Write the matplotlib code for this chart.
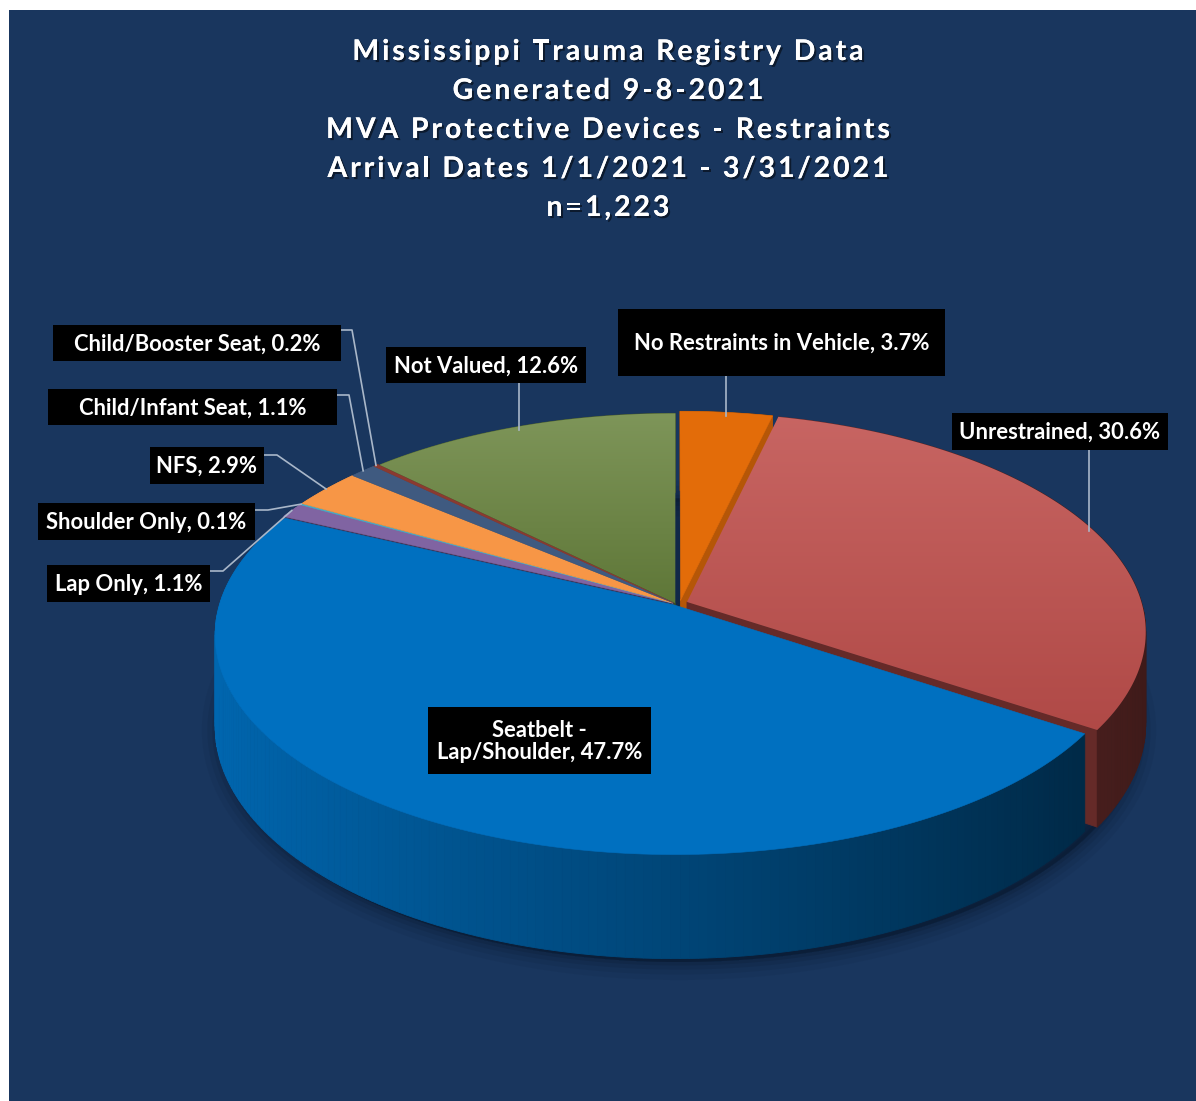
import numpy as np
import matplotlib
matplotlib.use("Agg")
import matplotlib.pyplot as plt
from matplotlib.patches import Rectangle, Polygon
from matplotlib.colors import to_rgb
from matplotlib.font_manager import FontProperties
import matplotlib.patheffects as pe

# dados
categories = ["No Restraints in Vehicle", "Unrestrained", "Seatbelt -\nLap/Shoulder",
              "Lap Only", "Shoulder Only", "NFS", "Child/Infant Seat",
              "Child/Booster Seat", "Not Valued"]
values = [3.7, 30.6, 47.7, 1.1, 0.1, 2.9, 1.1, 0.2, 12.6]
title_lines = ["Mississippi Trauma Registry Data", "Generated 9-8-2021",
               "MVA Protective Devices - Restraints",
               "Arrival Dates 1/1/2021 - 3/31/2021", "n=1,223"]

# estilo
colors = ["#E36C09", "#C0504D", "#0070C0", "#8064A2", "#4BACC6",
          "#F79646", "#3F5A80", "#8B3A30", "#69843E"]
grad = [0.0, 0.12, 0.0, 0.0, 0.0, 0.0, 0.0, 0.0, 0.14]
explode = [0.016, 0.026, 0.006, 0.008, 0.008, 0.008, 0.008, 0.008, 0.004]
BG = "#19365E"
LINE = "#A9B7C9"

# caixas dos rótulos (x0, y0, x1, y1) e cotovelo das linhas
boxes = [(618, 309, 945, 376), (952, 413, 1168, 450), (428, 707, 651, 774),
         (47, 565, 210, 602), (38, 503, 255, 540), (150, 447, 264, 484),
         (48, 389, 337, 425), (53, 325, 341, 361), (386, 347, 586, 383)]
elbows = [None, None, None, (210, 571, 223), (255, 510, 268), (264, 455, 277),
          (337, 395, 349), (341, 330, 352), None]

# projeção em perspectiva do disco
CX, SX, A, B, C, DEP = 676.0, 455.0, 134.4, 604.0, -0.1344, 90.0


def proj(u, v, z=0.0):
    w = 1 + C * v
    return CX + SX * u / w, (A * v + B + DEP * z) / w


def shade(c, f):
    r, g, b = to_rgb(c)
    return (r * f, g * f, b * f)


def lighten(c, f):
    r, g, b = to_rgb(c)
    return (r + (1 - r) * f, g + (1 - g) * f, b + (1 - b) * f)


fig = plt.figure(figsize=(11.96, 11.01), dpi=100, facecolor="white")
ax = fig.add_axes([0, 0, 1, 1])
ax.set_xlim(0, 1196)
ax.set_ylim(1101, 0)
ax.set_autoscale_on(False)
ax.axis("off")
ax.add_patch(Rectangle((9, 10), 1187, 1091, fc=BG, ec="none", zorder=0))

total = sum(values)
edges = np.concatenate([[0], np.cumsum(values)]) / total * 2 * np.pi

# sombra
t = np.linspace(0, 2 * np.pi, 200)
sx, sy = proj(np.sin(t), -np.cos(t), 1.0)
for lw, a in [(26, 0.06), (18, 0.08), (11, 0.1), (5, 0.14)]:
    ax.add_patch(Polygon(np.c_[sx + 3, sy + 5], closed=True, fc="#06101f",
                         ec="#06101f", lw=lw, alpha=a, zorder=1, joinstyle="round"))

walls = []
tops = []
rims = []
for i, val in enumerate(values):
    t1, t2 = edges[i], edges[i + 1]
    tm = (t1 + t2) / 2
    du, dv = explode[i] * np.sin(tm), -explode[i] * np.cos(tm)
    if i == 0:
        du += 0.008
    tt = np.linspace(t1, t2, max(3, int(np.degrees(t2 - t1)) + 2))
    us, vs = np.sin(tt) + du, -np.cos(tt) + dv
    # parede externa em segmentos
    for k in range(len(tt) - 1):
        xa, ya = proj(us[k], vs[k])
        xb, yb = proj(us[k + 1], vs[k + 1])
        xc, yc = proj(us[k + 1], vs[k + 1], 1)
        xd, yd = proj(us[k], vs[k], 1)
        f = 0.62 - 0.3 * np.sin((tt[k] + tt[k + 1]) / 2)
        walls.append(((vs[k] + vs[k + 1]) / 2,
                      [(xa, ya), (xb, yb), (xc, yc), (xd, yd)], shade(colors[i], f)))
    # paredes radiais visíveis
    for th, sgn in [(t1, -1), (t2, 1)]:
        nv = sgn * np.sin(th)
        if nv <= 0:
            continue
        ur, vr = np.sin(th) + du, -np.cos(th) + dv
        pts = [proj(du, dv), proj(ur, vr), proj(ur, vr, 1), proj(du, dv, 1)]
        walls.append((vr / 2 + dv / 2, pts, shade(colors[i], 0.9 - 0.45 * nv)))
    px, py = proj(np.r_[du, us], np.r_[dv, vs])
    tops.append(np.c_[px, py])
    rims.append(proj(np.sin(tm) + du, -np.cos(tm) + dv))

walls.sort(key=lambda w: w[0])
for k, (_, pts, col) in enumerate(walls):
    ax.add_patch(Polygon(pts, closed=True, fc=col, ec=col, lw=0.6, zorder=2 + k * 1e-4))

for i, pts in enumerate(tops):
    col = colors[i]
    if grad[i] > 0:
        patch = Polygon(pts, closed=True, fc="none", ec="none", zorder=5)
        ax.add_patch(patch)
        c0 = np.array(lighten(col, grad[i]))
        c1 = np.array(shade(col, 1 - grad[i] * 0.7))
        g = np.linspace(0, 1, 256)[:, None]
        img = (c0 * (1 - g) + c1 * g)[:, None, :]
        y0, y1 = pts[:, 1].min(), pts[:, 1].max()
        x0, x1 = pts[:, 0].min(), pts[:, 0].max()
        im = ax.imshow(img, extent=(x0, x1, y1, y0), aspect="auto", zorder=5,
                       interpolation="bilinear")
        im.set_clip_path(patch)
    else:
        ax.add_patch(Polygon(pts, closed=True, fc=col, ec=col, lw=0.4, zorder=5))

# rótulos
for i, name in enumerate(categories):
    x0, y0, x1, y1 = boxes[i]
    rx, ry = rims[i]
    if i != 2:
        if elbows[i] is None:
            ax.plot([rx, rx], [y1, ry + 4], color=LINE, lw=1.2, zorder=6)
        else:
            ex, ey, ex2 = elbows[i]
            ax.plot([ex, ex2, rx], [ey, ey, ry], color=LINE, lw=1.2, zorder=6)
    ax.add_patch(Rectangle((x0, y0), x1 - x0, y1 - y0, fc="black", ec="none", zorder=7))
    ax.text((x0 + x1) / 2, (y0 + y1) / 2 + 1, f"{name}, {values[i]:.1f}%", color="white",
            fontsize=15.8, fontweight="bold", family="Lato", ha="center", va="center",
            linespacing=1.1, zorder=8)

# título com espaçamento entre letras
renderer = fig.canvas.get_renderer()
fp = FontProperties(family="Lato", weight="bold", size=20.5)
spacing = 2.9
shadow = [pe.withSimplePatchShadow(offset=(1.5, -1.5), shadow_rgbFace="black", alpha=0.5),
          pe.Normal()]


def text_w(s):
    wx = renderer.get_text_width_height_descent(s + "x", fp, ismath=False)[0]
    return wx - renderer.get_text_width_height_descent("x", fp, ismath=False)[0]


baselines = [60, 99, 138, 177, 216]
for line, yb in zip(title_lines, baselines):
    full = text_w(line) + spacing * (len(line) - 1)
    xs = 608 - full / 2
    for k, ch in enumerate(line):
        if ch == " ":
            continue
        ax.text(xs + text_w(line[:k]) + spacing * k, yb, ch, color="white",
                fontproperties=fp, ha="left", va="baseline", zorder=8,
                path_effects=shadow)

ax.set_xlim(0, 1196)
ax.set_ylim(1101, 0)
fig.savefig("out.png", dpi=100, facecolor="white")
